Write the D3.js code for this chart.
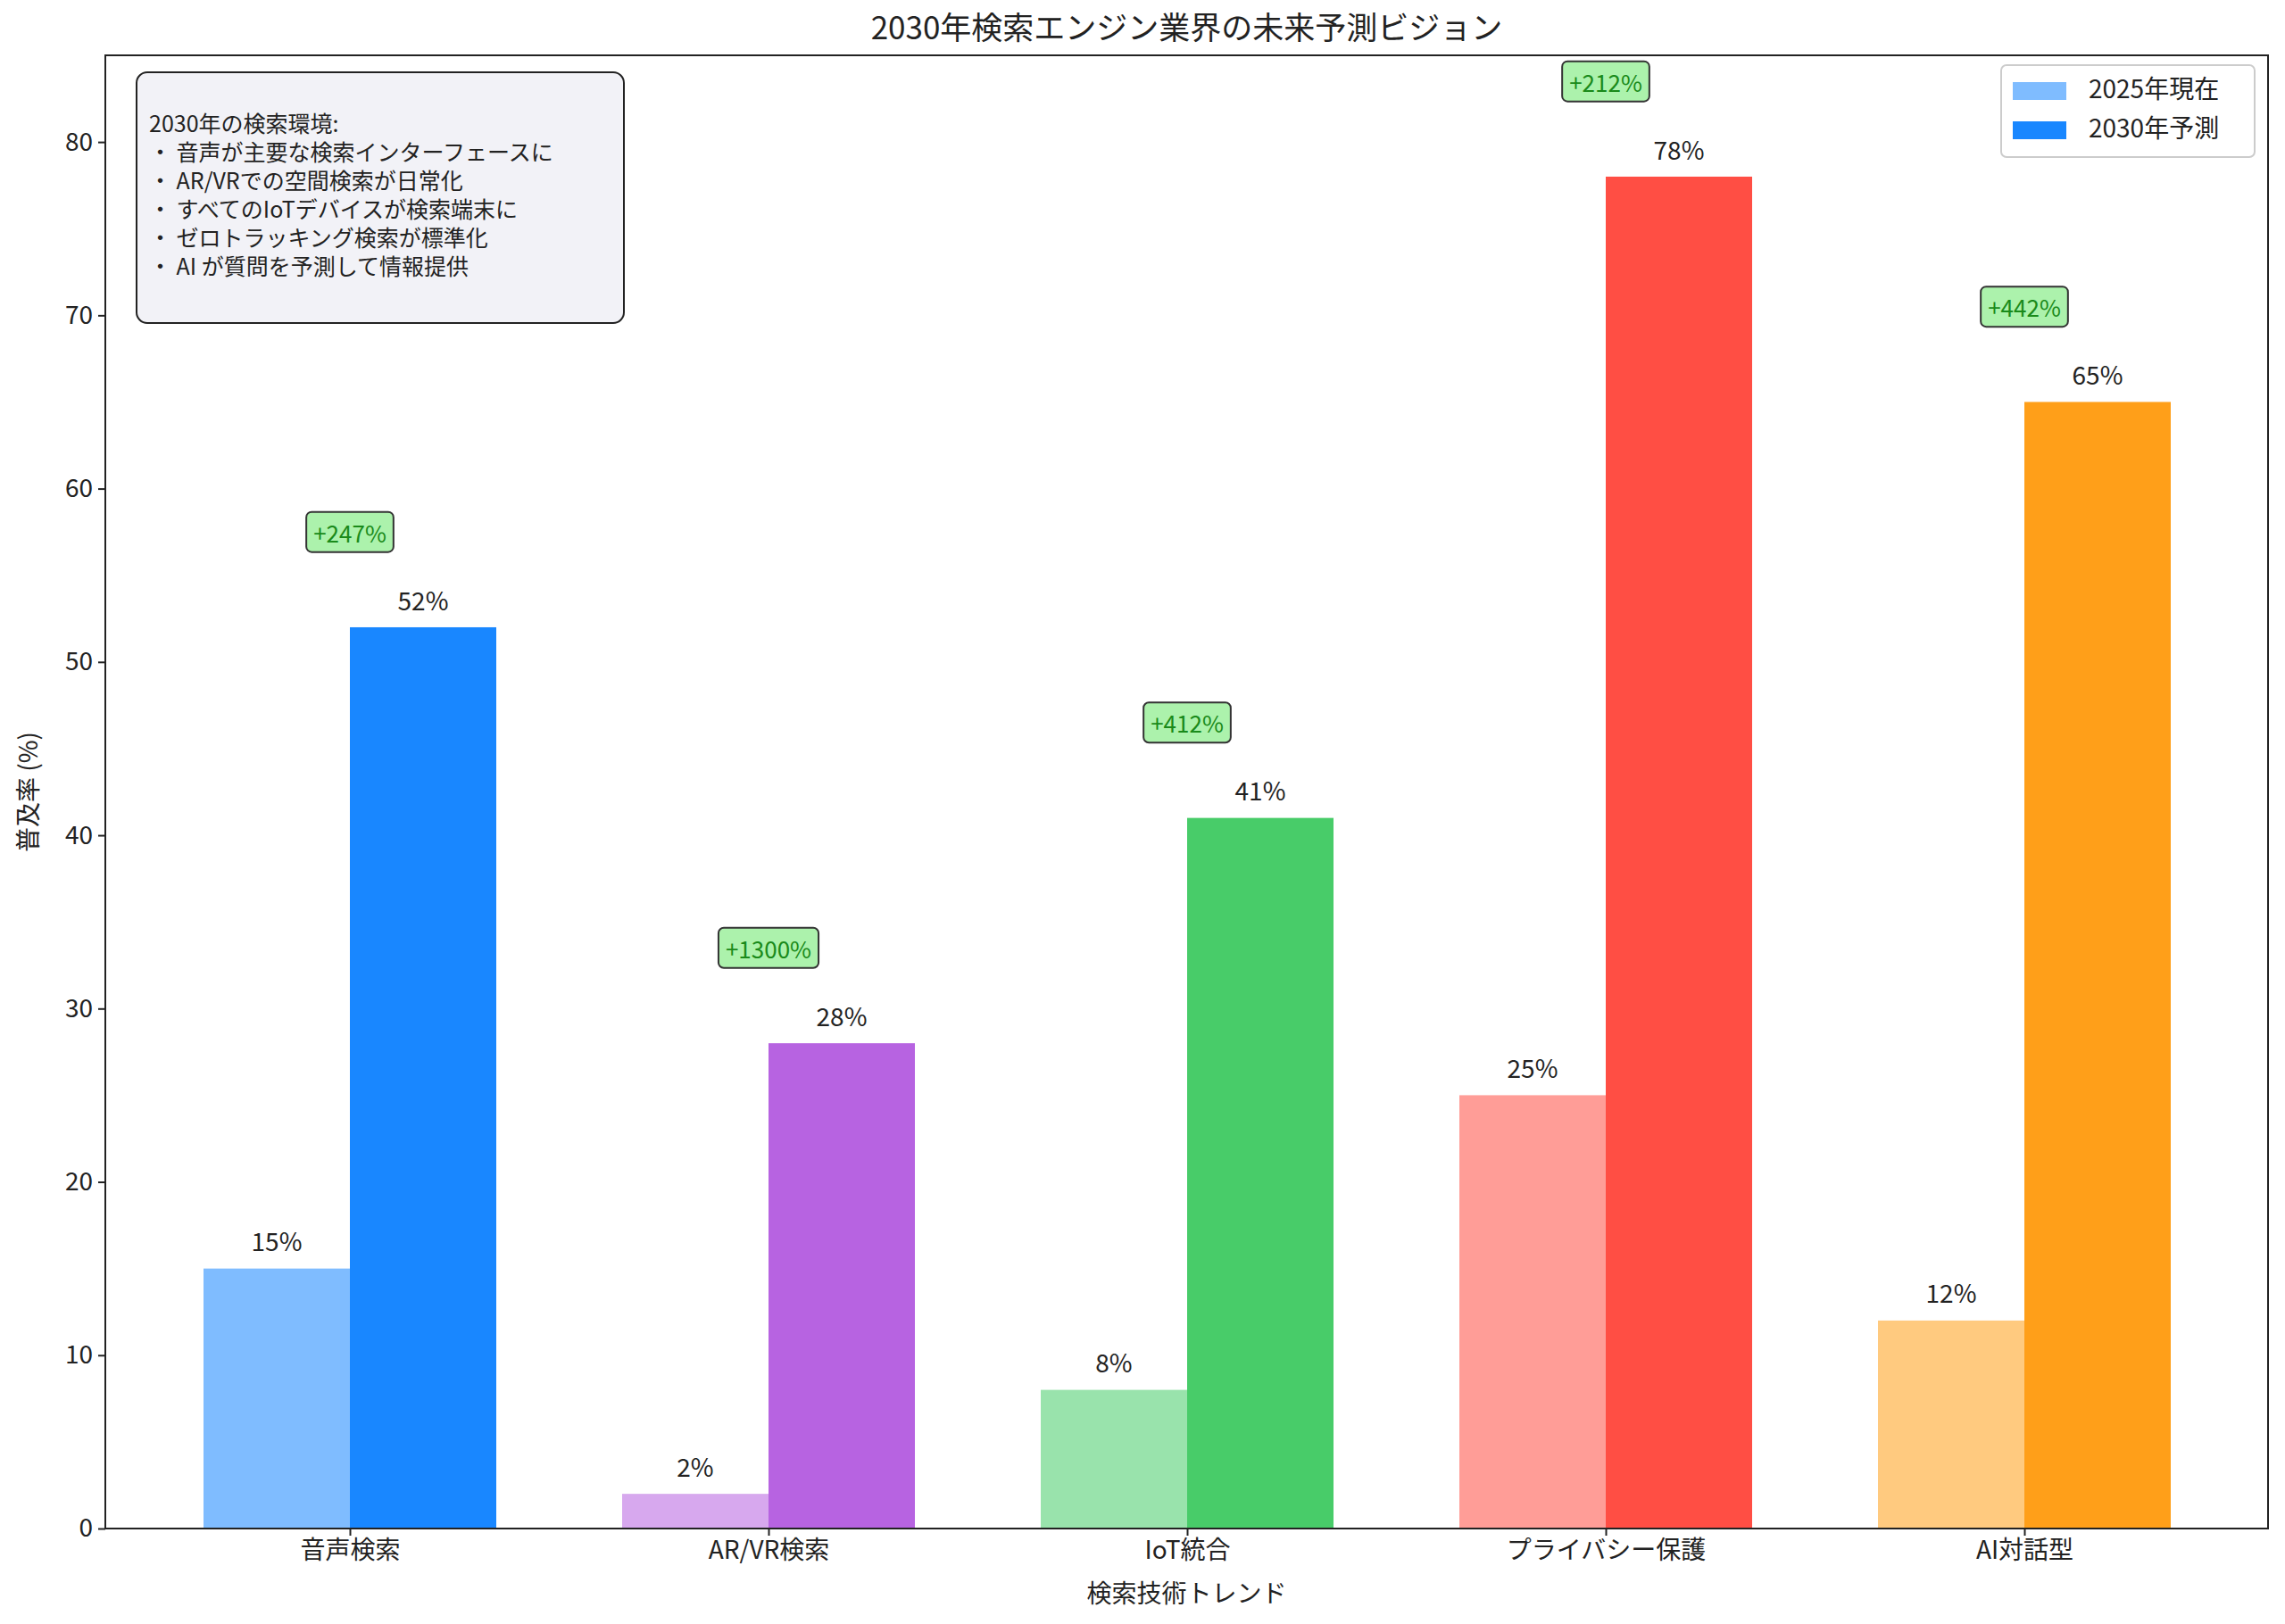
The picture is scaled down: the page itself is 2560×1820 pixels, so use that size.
<!DOCTYPE html>
<html><head><meta charset="utf-8">
<script src="https://cdn.jsdelivr.net/npm/d3@7"></script>
<style>body{margin:0;background:#fff}text{font-family:"Noto Sans CJK JP","Noto Sans",sans-serif;fill:#222}</style>
</head><body><svg id="c" width="2560" height="1820"></svg>
<script>
const categories=["音声検索","AR/VR検索","IoT統合","プライバシー保護","AI対話型"];
const current2025=[15,2,8,25,12];
const forecast2030=[52,28,41,78,65];
const growthLabels=["+247%","+1300%","+412%","+212%","+442%"];
const baseColors=["#007AFF","#AF52DE","#34C759","#FF3B30","#FF9500"];
const yTicks=[0,10,20,30,40,50,60,70,80];
const infoLines=["2030年の検索環境:","・ 音声が主要な検索インターフェースに","・ AR/VRでの空間検索が日常化","・ すべてのIoTデバイスが検索端末に","・ ゼロトラッキング検索が標準化","・ AI が質問を予測して情報提供"];

const svg=d3.select("#c");
const m={l:118,r:2541,t:62,b:1713};
const x=d3.scaleBand().domain(categories).range([m.l,m.r]).paddingInner(0.3).paddingOuter(0.0);
const step=(m.r-m.l)/categories.length;
const cx=i=>m.l+step*(i+0.5)-step*0.0;
// center positions like matplotlib: first center at ~ (240-72)*1.633 + left
const centers=categories.map((c,i)=>m.l+274+i*469);
const bw=164;
const y=d3.scaleLinear().domain([0,85]).range([m.b,m.t]);

// bars
categories.forEach((c,i)=>{
  svg.append("rect").attr("x",centers[i]-bw).attr("width",bw).attr("y",y(current2025[i])).attr("height",y(0)-y(current2025[i])).attr("fill",baseColors[i]).attr("fill-opacity",0.5);
  svg.append("rect").attr("x",centers[i]).attr("width",bw).attr("y",y(forecast2030[i])).attr("height",y(0)-y(forecast2030[i])).attr("fill",baseColors[i]).attr("fill-opacity",0.9);
  svg.append("text").attr("x",centers[i]-bw/2).attr("y",y(current2025[i]+1)).attr("text-anchor","middle").attr("font-size",28).text(current2025[i]+"%");
  svg.append("text").attr("x",centers[i]+bw/2).attr("y",y(forecast2030[i]+1)).attr("text-anchor","middle").attr("font-size",28).text(forecast2030[i]+"%");
  const gy=y(forecast2030[i]+5.5);
  const g=svg.append("g");
  const t=g.append("text").attr("x",centers[i]).attr("y",gy).attr("text-anchor","middle").attr("dominant-baseline","central").attr("font-size",26).style("fill","#1a8a1a").text(growthLabels[i]);
  const bb=t.node().getBBox();
  g.insert("rect","text").attr("x",bb.x-8).attr("y",bb.y-4).attr("width",bb.width+16).attr("height",bb.height+8).attr("rx",6).attr("fill","#90ee90").attr("fill-opacity",0.75).attr("stroke","#333").attr("stroke-width",2);
});

// axes
const ya=svg.append("g").attr("transform",`translate(${m.l},0)`).call(d3.axisLeft(y).tickValues(yTicks).tickSize(8).tickPadding(6));
ya.selectAll("text").attr("font-size",28);
const xa=svg.append("g").attr("transform",`translate(0,${m.b})`).call(d3.axisBottom(d3.scaleOrdinal().domain(categories).range(centers)).tickSize(8).tickPadding(6));
xa.selectAll("text").attr("font-size",28);
[ya,xa].forEach(a=>{a.select(".domain").remove();a.selectAll("line").attr("stroke","#222").attr("stroke-width",2);});
svg.append("rect").attr("x",m.l).attr("y",m.t).attr("width",m.r-m.l).attr("height",m.b-m.t).attr("fill","none").attr("stroke","#222").attr("stroke-width",2);

svg.append("text").attr("x",(m.l+m.r)/2).attr("y",44).attr("text-anchor","middle").attr("font-size",35).text("2030年検索エンジン業界の未来予測ビジョン");
svg.append("text").attr("x",(m.l+m.r)/2).attr("y",1796).attr("text-anchor","middle").attr("font-size",28).text("検索技術トレンド");
svg.append("text").attr("transform",`translate(42,${(m.t+m.b)/2}) rotate(-90)`).attr("text-anchor","middle").attr("font-size",28).text("普及率 (%)");

// info box
svg.append("rect").attr("x",153).attr("y",81).attr("width",546).attr("height",281).attr("rx",12).attr("fill","#f2f2f7").attr("stroke","#222").attr("stroke-width",2);
infoLines.forEach((l,i)=>svg.append("text").attr("x",167).attr("y",148+i*32).attr("font-size",25).text(l));

// legend
const lg=svg.append("g");
lg.append("rect").attr("x",2242).attr("y",73).attr("width",284).attr("height",103).attr("rx",6).attr("fill","#fff").attr("stroke","#ccc").attr("stroke-width",2);
[["2025年現在",0.5],["2030年予測",0.9]].forEach((d,i)=>{
  lg.append("rect").attr("x",2255).attr("y",92+i*44).attr("width",60).attr("height",20).attr("fill",baseColors[0]).attr("fill-opacity",d[1]);
  lg.append("text").attr("x",2340).attr("y",110+i*44).attr("font-size",28).text(d[0]);
});
</script></body></html>
